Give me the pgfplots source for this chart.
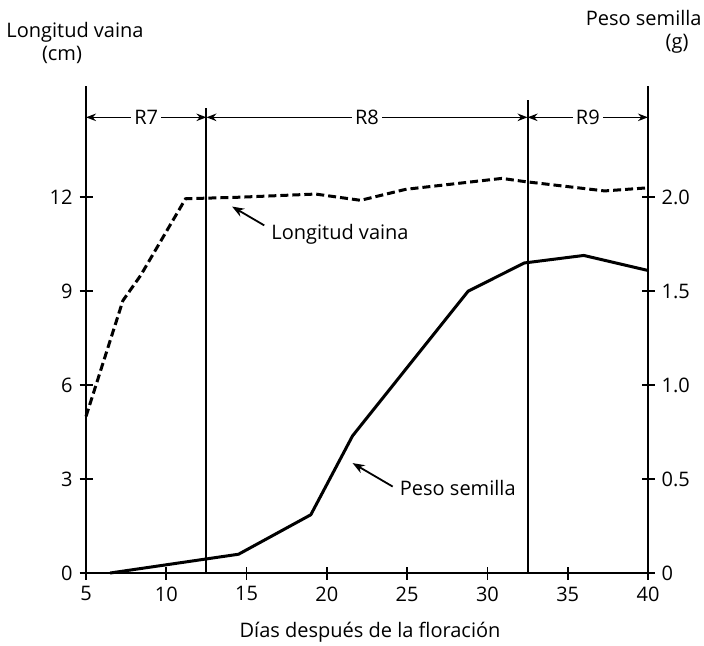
\documentclass[border=0pt]{standalone}
\usepackage{fontspec}
\setmainfont{Open Sans}
\usepackage{pgfplots}
\pgfplotsset{compat=1.18}
\usetikzlibrary{arrows.meta}

\begin{document}
\begin{tikzpicture}
\useasboundingbox (0,0) rectangle (352pt,322.5pt);

\pgfplotsset{every axis/.append style={
    scale only axis, width=281pt, height=243.5pt,
    at={(43pt,36pt)}, anchor=south west,
    xmin=5, xmax=40,
    tick align=inside, major tick length=6.5pt,
    tick style={line width=0.9pt, black},
    ticklabel style={font=\fontsize{10}{12}\selectfont},
    /pgf/number format/assume math mode=true,
}}

% longitud de vaina (cm), eje izquierdo
\begin{axis}[
    axis y line=left, axis x line=bottom,
    axis line style={line width=1pt, -},
    ymin=0, ymax=15.55,
    ytick={0,3,6,9,12},
    xtick={5,10,...,40},
    clip=false,
]
\addplot[black, line width=1.5pt, dash pattern=on 4pt off 2pt] coordinates {
    (5,5.0)(7.3,8.7)(8.4,9.5)(11.2,11.95)(14.6,12.0)(19.3,12.1)
    (22.1,11.9)(24.9,12.25)(30.9,12.6)(32.3,12.5)(37.3,12.2)(40,12.3)
};
% etapas
\draw[line width=1pt] (axis cs:12.5,0) -- (axis cs:12.5,14.85);
\draw[line width=1pt] (axis cs:32.5,0) -- (axis cs:32.5,15.1);
\draw[line width=0.8pt, {Stealth[length=5pt]}-{Stealth[length=5pt]}]
    (axis cs:5,14.55) -- (axis cs:12.5,14.55)
    node[midway, fill=white, inner sep=1.5pt] {R7};
\draw[line width=0.8pt, {Stealth[length=5pt]}-{Stealth[length=5pt]}]
    (axis cs:12.5,14.55) -- (axis cs:32.5,14.55)
    node[midway, fill=white, inner sep=1.5pt] {R8};
\draw[line width=0.8pt, {Stealth[length=5pt]}-{Stealth[length=5pt]}]
    (axis cs:32.5,14.55) -- (axis cs:40,14.55)
    node[midway, fill=white, inner sep=1.5pt] {R9};
\draw[line width=0.9pt, -{Stealth[length=6pt]}] (axis cs:16.1,11.1) -- (axis cs:14.1,11.7);
\node[anchor=west, inner sep=1pt] at (axis cs:16.4,10.8) {Longitud vaina};
\end{axis}

% peso de semilla (g), eje derecho
\begin{axis}[
    axis y line=right, axis x line=none,
    axis line style={line width=1pt, -},
    ymin=0, ymax=2.5917,
    ytick={0,0.5,1,1.5,2},
    yticklabels={0,0.5,1.0,1.5,2.0},
    clip=false,
]
\addplot[black, line width=1.5pt] coordinates {
    (6.5,0)(14.5,0.1)(19,0.31)(21.6,0.73)(28.8,1.5)(32.3,1.65)(36,1.69)(40,1.61)
};
\draw[line width=0.9pt, -{Stealth[length=6pt]}] (axis cs:24.1,0.46) -- (axis cs:21.6,0.585);
\node[anchor=west, inner sep=1pt] at (axis cs:24.4,0.455) {Peso semilla};
\end{axis}

\node at (37.5pt,306.5pt) {Longitud vaina};
\node at (31pt,295pt) {(cm)};
\node[anchor=east, inner sep=0pt] at (351pt,313.5pt) {Peso semilla};
\node at (338.5pt,300.5pt) {(g)};
\node at (185pt,6.5pt) {Días después de la floración};
\end{tikzpicture}
\end{document}
